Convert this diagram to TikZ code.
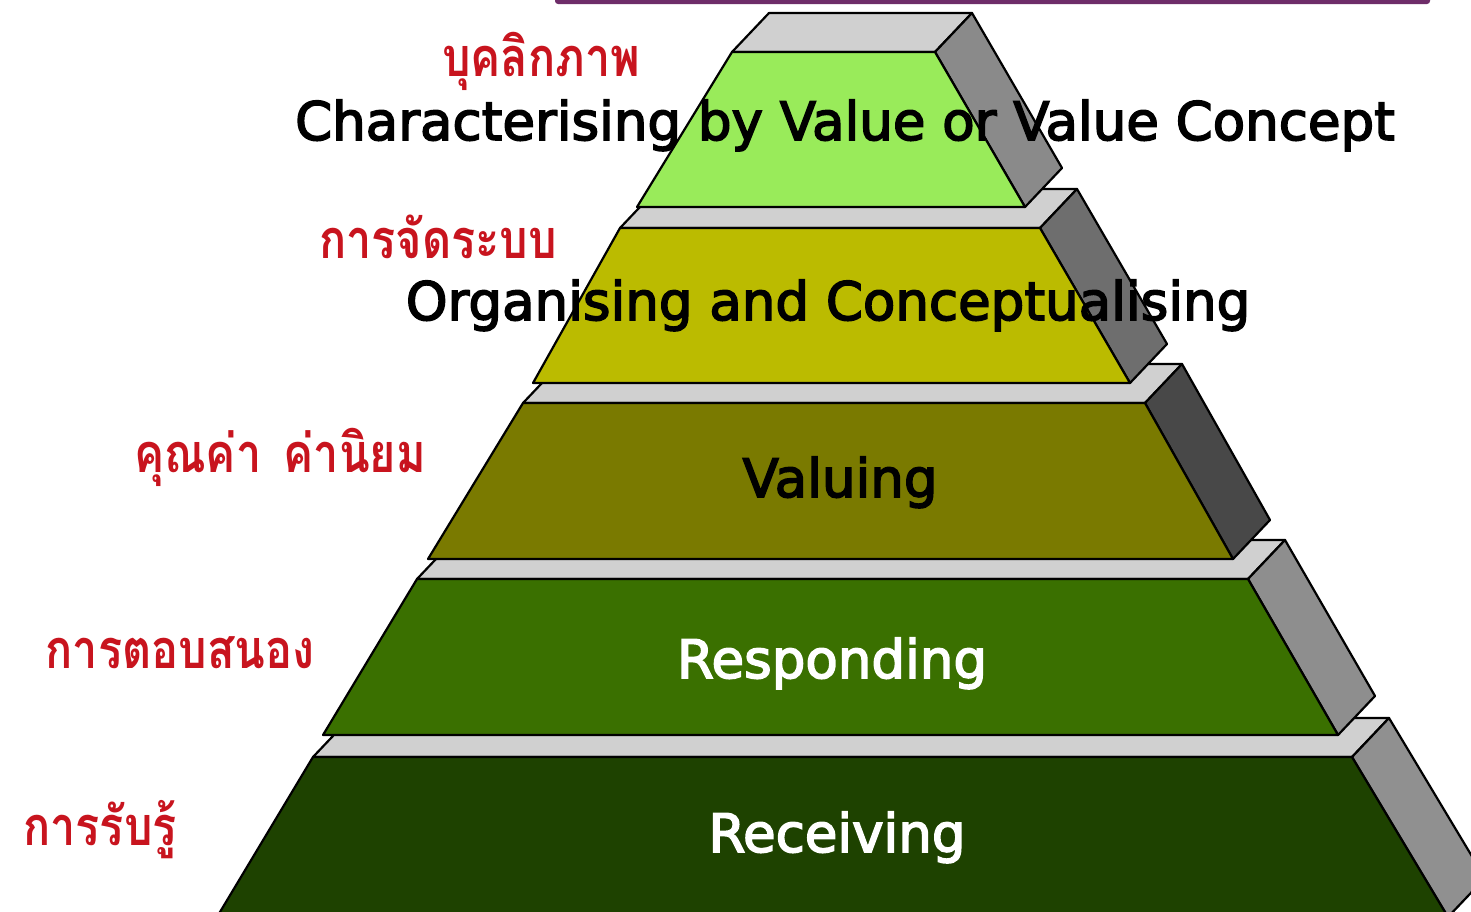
\documentclass[tikz,border=0pt]{standalone}
\usepackage{fontspec}
\setmainfont{DejaVu Sans}[BoldFont={DejaVu Sans},BoldFeatures={FakeBold=3}]
\newfontfamily\thaifont[Script=Thai]{Loma}
\definecolor{topface}{RGB}{208,208,208}
\definecolor{greenA}{RGB}{153,235,90}
\definecolor{yellowB}{RGB}{187,187,0}
\definecolor{oliveC}{RGB}{122,122,0}
\definecolor{greenD}{RGB}{58,112,0}
\definecolor{greenE}{RGB}{30,66,0}
\definecolor{sideA}{RGB}{138,138,138}
\definecolor{sideB}{RGB}{110,110,110}
\definecolor{sideC}{RGB}{72,72,72}
\definecolor{sideD}{RGB}{142,142,142}
\definecolor{sideE}{RGB}{144,144,144}
\definecolor{thaired}{RGB}{200,20,30}
\definecolor{barpurple}{RGB}{110,45,105}
% #1 FLx #2 FRx #3 ytop #4 BLx #5 BRx #6 ybot #7 front colour #8 side colour
\newcommand\pyrtier[8]{%
  \fill[topface,facestyle] (#1,#3) -- (#2,#3) -- ++(37,-39) -- (#1+37,#3-39) -- cycle;
  \fill[#8,facestyle] (#2,#3) -- ++(37,-39) -- (#5+37,#6-39) -- (#5,#6) -- cycle;
  \fill[#7,facestyle] (#1,#3) -- (#2,#3) -- (#5,#6) -- (#4,#6) -- cycle;
}
\newcommand\thaitext[1]{\scalebox{1}[1.2]{#1}}
\tikzset{
  facestyle/.style={draw=black,line width=2.2pt,line join=round},
  englabel/.style={anchor=base,inner sep=0pt,font=\fontsize{53}{60}\selectfont\bfseries},
  thailabel/.style={anchor=base,inner sep=0pt,text=thaired,font=\thaifont\bfseries\fontsize{45}{54}\selectfont}
}
\begin{document}
\begin{tikzpicture}[x=1pt,y=-1pt]
\clip (0,0) rectangle (1471,911);
\fill[white] (0,0) rectangle (1471,911);
% purple bar at the top
\fill[barpurple,rounded corners=3pt] (555,-6) rectangle (1430,4);
% tiers from bottom to top
\pyrtier{313}{1352}{757}{217}{1448}{917}{greenE}{sideE}
\pyrtier{417}{1248}{579}{323}{1338}{735}{greenD}{sideD}
\pyrtier{523}{1145}{403}{428}{1233}{559}{oliveC}{sideC}
\pyrtier{620}{1040}{228}{533}{1130}{383}{yellowB}{sideB}
\pyrtier{732}{935}{52}{637}{1025}{207}{greenA}{sideA}
% labels
\node[thailabel] (th1) at (541,76) {\thaitext{บุคลิกภาพ}};
\node[englabel] (en1) at (845,140) {Characterising by Value or Value Concept};
\node[thailabel] (th2) at (438,258) {\thaitext{การจัดระบบ}};
\node[englabel] (en2) at (828,320) {Organising and Conceptualising};
\node[thailabel] (th3) at (280,472) {\thaitext{คุณค่า\hspace{0.5em}ค่านิยม}};
\node[englabel] (en3) at (840,497) {Valuing};
\node[thailabel] (th4) at (180,668) {\thaitext{การตอบสนอง}};
\node[englabel,text=white] (en4) at (832,678) {Responding};
\node[thailabel] (th5) at (100,845) {\thaitext{การรับรู้}};
\node[englabel,text=white] (en5) at (837,852) {Receiving};
\end{tikzpicture}
\end{document}
